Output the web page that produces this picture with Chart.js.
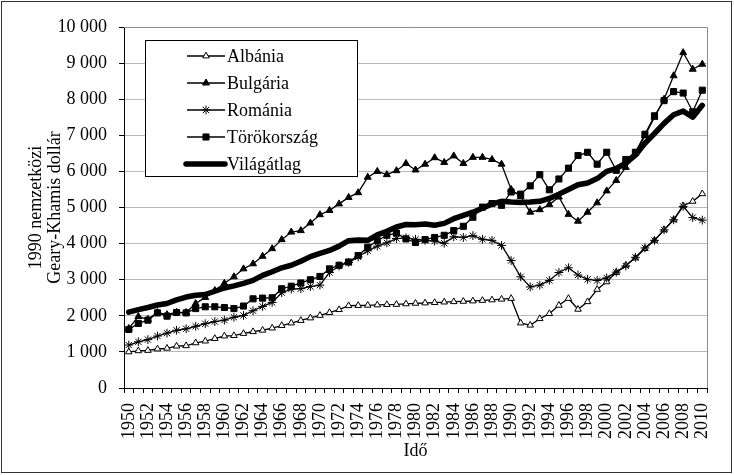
<!DOCTYPE html>
<html>
<head>
<meta charset="utf-8">
<script src="https://cdn.jsdelivr.net/npm/chart.js@4.4.1/dist/chart.umd.min.js"></script>
<style>
  html, body { margin: 0; padding: 0; background: #fff; }
  #wrap { position: relative; width: 734px; height: 475px; }
</style>
</head>
<body>
<div id="wrap"><canvas id="c" width="734" height="475"></canvas></div>
<script>
// GDP per capita, 1990 international Geary-Khamis dollars
const years = ['1950','1951','1952','1953','1954','1955','1956','1957','1958','1959',
  '1960','1961','1962','1963','1964','1965','1966','1967','1968','1969',
  '1970','1971','1972','1973','1974','1975','1976','1977','1978','1979',
  '1980','1981','1982','1983','1984','1985','1986','1987','1988','1989',
  '1990','1991','1992','1993','1994','1995','1996','1997','1998','1999',
  '2000','2001','2002','2003','2004','2005','2006','2007','2008','2009','2010'];

const albania = [1000,1030,1040,1080,1100,1160,1170,1250,1300,1370,
  1440,1450,1510,1560,1600,1660,1730,1800,1870,1940,
  2010,2090,2170,2280,2285,2290,2300,2310,2315,2330,
  2345,2355,2365,2380,2390,2400,2410,2425,2440,2460,
  2480,1800,1740,1920,2060,2290,2480,2180,2390,2730,
  2940,3200,3400,3600,3860,4090,4380,4660,5050,5170,5380];

const bulgaria = [1650,1980,1900,2090,2030,2100,2090,2340,2510,2700,
  2900,3080,3300,3440,3650,3860,4110,4320,4360,4570,
  4800,4920,5100,5280,5410,5840,6000,5910,6020,6220,
  6040,6200,6380,6250,6430,6220,6390,6390,6330,6200,
  5500,5300,4870,4940,5080,5290,4810,4620,4870,5130,
  5460,5750,6110,6500,6990,7500,8000,8650,9290,8830,8970];

const romania = [1190,1280,1340,1440,1520,1600,1640,1710,1780,1840,
  1880,1960,2010,2140,2260,2370,2640,2740,2750,2810,
  2850,3200,3380,3480,3630,3800,3930,4020,4140,4160,
  4120,4090,4070,4010,4190,4170,4220,4120,4090,3950,
  3530,3080,2800,2850,2980,3200,3330,3130,3010,2980,
  3050,3210,3380,3620,3880,4090,4380,4660,5030,4720,4650];

const torokorszag = [1620,1790,1880,2080,1990,2090,2080,2200,2250,2250,
  2230,2200,2270,2470,2490,2500,2750,2820,2910,3000,
  3090,3300,3400,3490,3670,3900,4080,4230,4290,4130,
  4030,4110,4170,4230,4360,4480,4730,5010,5110,5060,
  5430,5370,5600,5910,5490,5790,6090,6440,6530,6200,
  6530,6030,6330,6530,7030,7540,7960,8210,8170,7650,8250];

const vilagatlag = [2100,2170,2230,2300,2340,2440,2520,2570,2590,2680,
  2770,2830,2900,2980,3120,3220,3330,3400,3510,3640,
  3730,3810,3930,4080,4100,4090,4240,4340,4460,4530,
  4520,4540,4510,4560,4690,4780,4870,4980,5100,5170,
  5150,5140,5150,5170,5250,5370,5500,5630,5680,5800,
  6000,6080,6230,6450,6780,7050,7330,7570,7670,7500,7830];

const seriesNames = ['Albánia', 'Bulgária', 'Románia', 'Törökország', 'Világátlag'];
const yTicks = [0, 1000, 2000, 3000, 4000, 5000, 6000, 7000, 8000, 9000, 10000];

const FONT = "'Liberation Serif', 'Times New Roman', serif";

function countryLine(label, data, style, radius, fill, order) {
  return {
    label: label,
    data: data,
    borderColor: '#000',
    borderWidth: 1.3,
    pointStyle: style,
    pointRadius: radius,
    pointBackgroundColor: fill,
    pointBorderColor: '#000',
    pointBorderWidth: 1,
    tension: 0,
    order: order
  };
}

// legend box + plot frame drawn on the canvas
const frame = {
  id: 'frame',
  afterDraw(chart) {
    const ctx = chart.ctx;
    const a = chart.chartArea;
    ctx.save();
    ctx.strokeStyle = '#8c8c8c';
    ctx.lineWidth = 1;
    ctx.beginPath();
    ctx.moveTo(a.left, Math.round(a.top) + 0.5);
    ctx.lineTo(Math.round(a.right) + 0.5, Math.round(a.top) + 0.5);
    ctx.lineTo(Math.round(a.right) + 0.5, a.bottom);
    ctx.stroke();

    ctx.strokeStyle = '#333';
    ctx.strokeRect(1.5, 1.5, 730, 471);

    // legend
    const box = { x: 145.5, y: 40.5, w: 212, h: 136 };
    ctx.fillStyle = '#fff';
    ctx.fillRect(box.x, box.y, box.w, box.h);
    ctx.strokeStyle = '#000';
    ctx.strokeRect(box.x, box.y, box.w, box.h);
    ctx.font = '18px ' + FONT;
    ctx.textBaseline = 'middle';
    ctx.textAlign = 'left';
    const rows = [56, 83, 110, 137, 164];
    chart.data.datasets.forEach((ds, i) => {
      const y = rows[i];
      ctx.strokeStyle = '#000';
      ctx.lineWidth = ds.borderWidth;
      ctx.lineCap = i === 4 ? 'round' : 'butt';
      ctx.beginPath();
      ctx.moveTo(i === 4 ? 186 : 187, y);
      ctx.lineTo(225, y);
      ctx.stroke();
      if (ds.pointRadius > 0) {
        ctx.fillStyle = ds.pointBackgroundColor;
        ctx.strokeStyle = '#000';
        ctx.lineWidth = ds.pointBorderWidth;
        Chart.helpers.drawPoint(ctx, {
          pointStyle: ds.pointStyle, radius: ds.pointRadius, rotation: 0, borderWidth: ds.pointBorderWidth
        }, 206, y);
      }
      ctx.fillStyle = '#000';
      ctx.fillText(seriesNames[i], 227, y + 1);
    });
    ctx.restore();
  }
};

new Chart(document.getElementById('c'), {
  type: 'line',
  data: {
    labels: years,
    datasets: [
      countryLine(seriesNames[0], albania, 'triangle', 3.8, '#fff', 5),
      countryLine(seriesNames[1], bulgaria, 'triangle', 4, '#000', 4),
      countryLine(seriesNames[2], romania, 'star', 4.4, '#000', 3),
      countryLine(seriesNames[3], torokorszag, 'rect', 4.3, '#000', 2),
      {
        label: seriesNames[4],
        data: vilagatlag,
        borderColor: '#000',
        borderWidth: 5.5,
        pointRadius: 0,
        borderJoinStyle: 'round',
        borderCapStyle: 'round',
        tension: 0,
        order: 1
      }
    ]
  },
  options: {
    responsive: false,
    devicePixelRatio: 1,
    animation: false,
    layout: { padding: { left: 0, right: 14, top: 27, bottom: 0 } },
    plugins: {
      legend: { display: false },
      tooltip: { enabled: false }
    },
    scales: {
      x: {
        type: 'category',
        offset: true,
        afterFit(s) { s.height = 87; },
        grid: {
          offset: true,
          drawOnChartArea: false,
          drawTicks: true,
          tickLength: 5,
          color: '#000'
        },
        border: { display: true, color: '#000', width: 1 },
        ticks: {
          autoSkip: false,
          minRotation: 90,
          maxRotation: 90,
          padding: 10,
          color: '#000',
          font: { family: FONT, size: 18 },
          callback: (v, i) => (i % 2 === 0 ? years[i] : '')
        },
        title: {
          display: true,
          text: 'Idő',
          color: '#000',
          font: { family: FONT, size: 18, lineHeight: 1.15 },
          padding: { top: 0, bottom: 13 }
        }
      },
      y: {
        min: 0,
        max: 10000,
        afterFit(s) { s.width = 124; },
        afterBuildTicks(s) { s.ticks = yTicks.map(v => ({ value: v })); },
        grid: {
          color: '#b8b8b8',
          tickColor: '#000',
          tickLength: 5
        },
        border: { display: true, color: '#000', width: 1 },
        ticks: {
          padding: 12,
          color: '#000',
          font: { family: FONT, size: 18 },
          callback: v => (v === 0 ? '0' : (v / 1000) + ' 000')
        },
        title: {
          display: true,
          text: ['1990 nemzetközi', 'Geary-Khamis dollár'],
          color: '#000',
          font: { family: FONT, size: 18, lineHeight: 1.1 },
          padding: { top: 26, bottom: 0 }
        }
      }
    }
  },
  plugins: [frame]
});
</script>
</body>
</html>
